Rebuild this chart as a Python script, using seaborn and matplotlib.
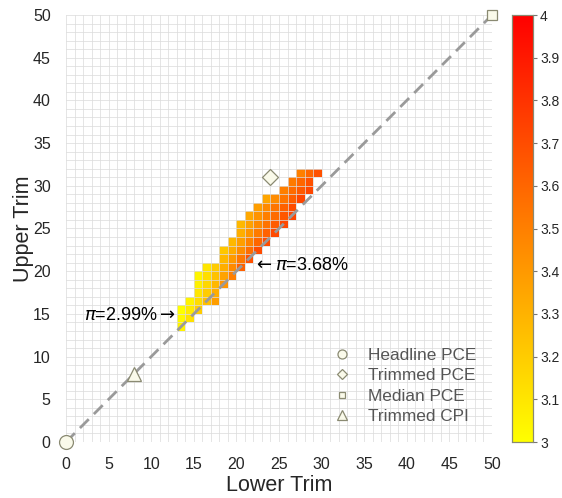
import numpy as np
import pandas as pd
import matplotlib
matplotlib.use("Agg")
import matplotlib.pyplot as plt
import seaborn as sns

# ---------------- data ----------------
# each row: upper trim, first lower trim in that row, and the inflation values (left -> right)
upper_trim = [13, 14, 15, 16, 17, 18, 19, 20, 21, 22, 23, 24, 25, 26, 27, 28, 29, 30, 31]
row_start = [13, 13, 13, 14, 15, 15, 15, 16, 18, 18, 19, 20, 20, 21, 22, 23, 25, 26, 27]
row_values = [
    [3.05],
    [3.02, 3.12],
    [2.99, 3.08, 3.20],
    [3.05, 3.14, 3.25, 3.38],
    [3.10, 3.20, 3.32],
    [3.06, 3.16, 3.28, 3.42],
    [3.04, 3.13, 3.24, 3.36, 3.50],
    [3.10, 3.20, 3.32, 3.46, 3.62],
    [3.28, 3.40, 3.53, 3.68],
    [3.22, 3.33, 3.45, 3.57, 3.70],
    [3.28, 3.38, 3.49, 3.60, 3.70],
    [3.32, 3.42, 3.52, 3.62, 3.71],
    [3.28, 3.37, 3.46, 3.55, 3.64, 3.72],
    [3.34, 3.42, 3.50, 3.58, 3.66, 3.73],
    [3.38, 3.46, 3.54, 3.62, 3.70],
    [3.35, 3.45, 3.54, 3.63, 3.72],
    [3.50, 3.58, 3.65, 3.72],
    [3.52, 3.60, 3.68],
    [3.50, 3.60, 3.68],
]

ref_names = ["Headline PCE", "Trimmed PCE", "Median PCE", "Trimmed CPI"]
ref_lower = [0, 24, 50, 8]
ref_upper = [0, 31, 50, 8]
ref_markers = ["o", "D", "s", "^"]
ref_sizes = [10, 8.5, 7.5, 10]

ann_labels = [r"$\pi$=2.99%$\rightarrow$", r"$\leftarrow\pi$=3.68%"]
ann_x = [12.9, 22.0]
ann_y = [14.8, 20.7]
ann_ha = ["right", "left"]

x_ticks = list(range(0, 51, 5))
y_ticks = list(range(0, 51, 5))
cbar_ticks = [3.0, 3.1, 3.2, 3.3, 3.4, 3.5, 3.6, 3.7, 3.8, 3.9, 4.0]
cbar_labels = ["3", "3.1", "3.2", "3.3", "3.4", "3.5", "3.6", "3.7", "3.8", "3.9", "4"]
trim_max = 50

# ---------------- build grid ----------------
grid = np.full((trim_max, trim_max), np.nan)
for yv, xs, vals in zip(upper_trim, row_start, row_values):
    for i, v in enumerate(vals):
        grid[yv, xs + i] = v
df = pd.DataFrame(grid, index=range(trim_max), columns=range(trim_max))

# ---------------- figure ----------------
sns.set_style("white")
plt.rcParams["font.family"] = ["Liberation Sans", "DejaVu Sans"]
plt.rcParams["mathtext.fontset"] = "dejavusans"

fig = plt.figure(figsize=(5.62, 4.98), dpi=100)
ax = fig.add_axes([66 / 562, 56 / 498, 426 / 562, 427 / 498])
cax = fig.add_axes([512 / 562, 56 / 498, 21 / 562, 427 / 498])

sns.heatmap(df, ax=ax, cmap="autumn_r", vmin=3, vmax=4, cbar_ax=cax,
            xticklabels=False, yticklabels=False)
ax.set_xlim(0, trim_max)
ax.set_ylim(0, trim_max)

# grid
ax.set_xticks(x_ticks)
ax.set_yticks(y_ticks)
ax.set_xticklabels([str(t) for t in x_ticks], fontsize=11.5, color="#262626")
ax.set_yticklabels([str(t) for t in y_ticks], fontsize=11.5, color="#262626")
ax.set_xticks(np.arange(0, trim_max + 1, 1), minor=True)
ax.set_yticks(np.arange(0, trim_max + 1, 1), minor=True)
ax.grid(which="both", color="#dcdcdc", linewidth=0.7, alpha=0.75)
ax.set_axisbelow(False)
ax.tick_params(which="major", direction="in", length=4, color="#999999", pad=11)
ax.tick_params(which="minor", length=0)
for s in ax.spines.values():
    s.set_visible(False)

# diagonal
ax.plot([0, trim_max], [0, trim_max], linestyle=(0, (4.5, 2.6)), color="#9a9a9a",
        linewidth=2, zorder=3)

# reference points
handles = []
for name, xv, yv, m, ms in zip(ref_names, ref_lower, ref_upper, ref_markers, ref_sizes):
    h, = ax.plot([xv], [yv], marker=m, markersize=ms, linestyle="none",
                 markerfacecolor="#fafaea", markeredgecolor="#8a8a72",
                 markeredgewidth=0.9, clip_on=False, zorder=5, label=name)
    handles.append(h)

leg = ax.legend(handles=handles, loc="lower right", bbox_to_anchor=(1.0, 0.005),
                frameon=False, fontsize=12.4, markerscale=0.65, labelspacing=0.32,
                handletextpad=0.9, handlelength=1.2)
for t in leg.get_texts():
    t.set_color("#555555")

# annotations
for lab, xv, yv, ha in zip(ann_labels, ann_x, ann_y, ann_ha):
    ax.text(xv, yv, lab, ha=ha, va="center", fontsize=13, color="black", zorder=6)

ax.set_xlabel("Lower Trim", fontsize=15.5, color="#262626", labelpad=2)
ax.set_ylabel("Upper Trim", fontsize=15.5, color="#262626", labelpad=-1)

# colorbar
cax.set_yticks(cbar_ticks)
cax.set_yticklabels(cbar_labels, fontsize=10, color="#262626")
cax.tick_params(direction="out", length=3, color="#777777", right=True, left=False, pad=2)
for s in cax.spines.values():
    s.set_visible(True)
    s.set_color("#8a8a72")
    s.set_linewidth(0.8)

fig.savefig("out.png", dpi=100)
